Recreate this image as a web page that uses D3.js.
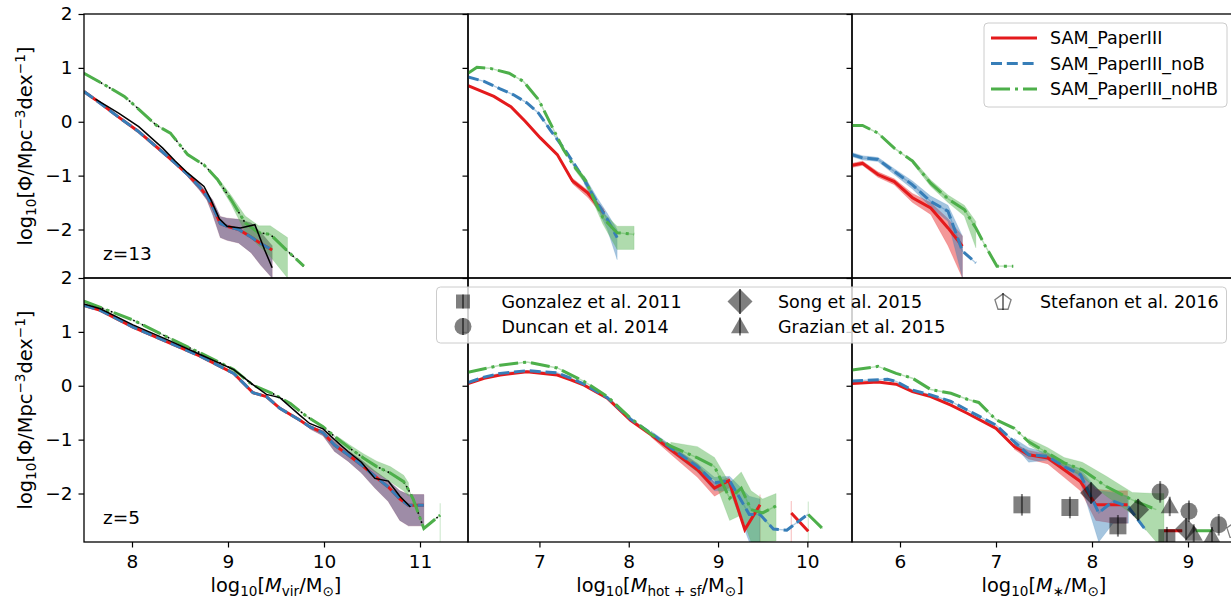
<!DOCTYPE html>
<html>
<head>
<meta charset="utf-8">
<script src="https://cdn.jsdelivr.net/npm/d3@7/dist/d3.min.js"></script>
<style>
  body { margin: 0; background: #fff; }
  svg { display: block; font-family: "DejaVu Sans", sans-serif; }
</style>
</head>
<body>
<svg id="chart" width="1231" height="601"></svg>
<script>
// ---- data: [log10 mass, log10 phi] ----
// top row, z=13
const virZ13Red = [[7.5,0.56],[7.62,0.41],[7.85,0.10],[8.06,-0.17],[8.33,-0.58],[8.45,-0.77],[8.58,-0.98],[8.70,-1.20],[8.78,-1.38],[8.84,-1.57],[8.92,-1.89],[8.99,-1.94],[9.11,-2.00],[9.24,-2.14],[9.34,-2.26],[9.46,-2.38]];
const virZ13Blue = [[7.5,0.56],[7.62,0.41],[7.85,0.10],[8.06,-0.17],[8.33,-0.58],[8.45,-0.77],[8.58,-0.98],[8.70,-1.20],[8.78,-1.38],[8.84,-1.57],[8.92,-1.89],[8.99,-1.94],[9.11,-2.00],[9.24,-2.14],[9.34,-2.26],[9.46,-2.38]];
const virZ13Green = [[7.5,0.90],[7.71,0.69],[7.92,0.47],[8.06,0.25],[8.25,-0.06],[8.40,-0.21],[8.58,-0.61],[8.75,-0.80],[8.89,-1.07],[9.03,-1.44],[9.18,-1.88],[9.32,-2.06],[9.44,-2.09],[9.62,-2.40],[9.79,-2.68]];
const virZ13Black = [[7.62,0.42],[7.86,0.16],[8.07,-0.09],[8.32,-0.49],[8.45,-0.73],[8.58,-0.95],[8.75,-1.20],[8.82,-1.44],[8.91,-1.80],[8.99,-1.94],[9.13,-1.97],[9.28,-1.91],[9.38,-2.37],[9.46,-2.71]];
// bands: [x, upper, lower]
const virZ13RedBand = [[8.58,-0.95,-1.02],[8.70,-1.14,-1.26],[8.78,-1.32,-1.45],[8.84,-1.45,-1.72],[8.92,-1.76,-2.15],[8.99,-1.79,-2.20],[9.11,-1.81,-2.25],[9.24,-1.88,-2.43],[9.34,-2.05,-2.66],[9.46,-2.30,-2.90]];
const virZ13BlueBand = [[8.58,-0.95,-1.02],[8.70,-1.14,-1.26],[8.78,-1.32,-1.45],[8.84,-1.45,-1.72],[8.92,-1.76,-2.15],[8.99,-1.79,-2.20],[9.11,-1.81,-2.25],[9.24,-1.88,-2.43],[9.34,-2.05,-2.66],[9.46,-2.30,-2.90]];
const virZ13GreenBand = [[8.89,-1.03,-1.11],[9.03,-1.36,-1.52],[9.18,-1.75,-2.05],[9.32,-1.93,-2.30],[9.44,-1.93,-2.50],[9.62,-2.15,-2.90]];

const hotZ13Red = [[6.2,0.67],[6.49,0.47],[6.68,0.28],[6.84,0.01],[7.01,-0.30],[7.20,-0.61],[7.37,-1.10],[7.54,-1.32],[7.63,-1.51],[7.72,-1.69]];
const hotZ13Blue = [[6.2,0.83],[6.38,0.75],[6.56,0.61],[6.71,0.50],[6.86,0.35],[6.99,0.16],[7.12,-0.15],[7.31,-0.58],[7.50,-1.07],[7.65,-1.51],[7.76,-1.81],[7.87,-2.15]];
const hotZ13Green = [[6.2,0.90],[6.30,1.01],[6.45,0.99],[6.66,0.90],[6.82,0.75],[6.99,0.41],[7.12,-0.02],[7.27,-0.52],[7.39,-0.83],[7.52,-1.10],[7.61,-1.44],[7.71,-1.78],[7.87,-2.06],[8.06,-2.09]];
const hotZ13RedBand = [[7.37,-1.05,-1.15],[7.54,-1.27,-1.40],[7.63,-1.45,-1.58],[7.72,-1.62,-1.75]];
const hotZ13BlueBand = [[7.50,-1.00,-1.15],[7.65,-1.42,-1.62],[7.76,-1.70,-2.00],[7.87,-2.00,-2.56]];
const hotZ13GreenBand = [[7.39,-0.78,-0.88],[7.52,-1.05,-1.17],[7.61,-1.38,-1.52],[7.71,-1.68,-1.90],[7.87,-1.94,-2.37],[8.06,-1.94,-2.37]];

const starZ13Red = [[5.5,-0.81],[5.61,-0.77],[5.77,-0.98],[5.94,-1.11],[6.13,-1.41],[6.32,-1.60],[6.50,-1.97],[6.65,-2.31]];
const starZ13Blue = [[5.5,-0.61],[5.61,-0.67],[5.77,-0.70],[5.94,-0.92],[6.13,-1.17],[6.32,-1.48],[6.50,-1.66],[6.65,-2.40],[6.79,-2.62]];
const starZ13Green = [[5.5,-0.07],[5.61,-0.07],[5.77,-0.21],[5.94,-0.49],[6.13,-0.73],[6.32,-1.14],[6.50,-1.43],[6.67,-1.63],[6.79,-1.97],[6.89,-2.31],[7.01,-2.68],[7.18,-2.68]];
const starZ13RedBand = [[5.5,-0.77,-0.85],[5.61,-0.73,-0.81],[5.77,-0.93,-1.03],[5.94,-1.06,-1.17],[6.13,-1.33,-1.50],[6.32,-1.50,-1.72],[6.50,-1.80,-2.30],[6.65,-2.12,-2.90]];
const starZ13BlueBand = [[5.5,-0.57,-0.65],[5.61,-0.63,-0.71],[5.77,-0.66,-0.74],[5.94,-0.87,-0.98],[6.13,-1.10,-1.25],[6.32,-1.38,-1.58],[6.50,-1.55,-1.85],[6.65,-2.12,-2.90]];
const starZ13GreenBand = [[6.13,-0.69,-0.77],[6.32,-1.08,-1.20],[6.50,-1.36,-1.50],[6.67,-1.55,-1.75],[6.79,-1.85,-2.34]];

// bottom row, z=5
const virZ5Red = [[7.5,1.49],[7.67,1.40],[8.01,1.09],[8.36,0.82],[8.71,0.55],[9.06,0.23],[9.26,-0.13],[9.40,-0.20],[9.54,-0.42],[9.75,-0.64],[9.85,-0.76],[9.99,-0.87],[10.11,-1.10],[10.25,-1.28],[10.39,-1.47],[10.53,-1.68],[10.67,-1.88],[10.79,-2.10],[10.88,-2.22],[10.97,-2.22],[11.04,-2.22]];
const virZ5Blue = [[7.5,1.49],[7.67,1.40],[8.01,1.09],[8.36,0.82],[8.71,0.55],[9.06,0.23],[9.26,-0.13],[9.40,-0.20],[9.54,-0.42],[9.75,-0.64],[9.85,-0.76],[9.99,-0.87],[10.11,-1.10],[10.25,-1.28],[10.39,-1.47],[10.53,-1.68],[10.67,-1.88],[10.79,-2.10],[10.88,-2.22],[10.97,-2.22],[11.04,-2.22]];
const virZ5Green = [[7.5,1.57],[8.01,1.22],[8.36,0.91],[8.71,0.61],[9.06,0.30],[9.26,0.01],[9.47,-0.15],[9.65,-0.33],[9.82,-0.57],[9.99,-0.76],[10.13,-0.97],[10.27,-1.16],[10.41,-1.34],[10.55,-1.50],[10.69,-1.62],[10.83,-1.78],[10.88,-1.93],[10.93,-2.11],[11.04,-2.65],[11.21,-2.40]];
const virZ5Black = [[7.5,1.52],[7.67,1.43],[8.01,1.13],[8.36,0.86],[8.71,0.58],[9.06,0.30],[9.26,0.02],[9.40,-0.16],[9.54,-0.22],[9.75,-0.55],[9.85,-0.70],[9.99,-0.80],[10.11,-1.00],[10.25,-1.22],[10.39,-1.42],[10.53,-1.72],[10.67,-1.77],[10.79,-2.05],[10.90,-2.25]];
const virZ5RedBand = [[9.85,-0.74,-0.80],[9.99,-0.83,-0.93],[10.11,-1.03,-1.22],[10.25,-1.20,-1.40],[10.39,-1.38,-1.62],[10.53,-1.58,-1.90],[10.67,-1.76,-2.15],[10.79,-1.95,-2.50],[10.88,-2.02,-2.60],[11.04,-2.02,-2.60]];
const virZ5BlueBand = [[9.85,-0.74,-0.80],[9.99,-0.83,-0.93],[10.11,-1.03,-1.22],[10.25,-1.20,-1.40],[10.39,-1.38,-1.62],[10.53,-1.58,-1.90],[10.67,-1.76,-2.15],[10.79,-1.95,-2.50],[10.88,-2.02,-2.60],[11.04,-2.02,-2.60]];
const virZ5GreenBand = [[10.13,-0.93,-1.02],[10.27,-1.10,-1.22],[10.41,-1.26,-1.45],[10.55,-1.40,-1.62],[10.69,-1.50,-1.78],[10.83,-1.66,-1.95],[10.88,-1.80,-2.05],null,[11.21,-2.18,-2.90]];

const hotZ5Red = [[6.2,0.04],[6.38,0.14],[6.56,0.20],[6.86,0.26],[7.20,0.20],[7.35,0.11],[7.50,0.01],[7.76,-0.23],[8.02,-0.64],[8.25,-0.91],[8.47,-1.19],[8.77,-1.56],[8.96,-1.90],[9.12,-1.76],[9.30,-2.67],[9.47,-2.21],null,[9.82,-2.36],[10.01,-2.70]];
const hotZ5Blue = [[6.2,0.06],[6.38,0.16],[6.56,0.23],[6.86,0.28],[7.20,0.24],[7.35,0.14],[7.50,0.03],[7.76,-0.22],[8.02,-0.62],[8.25,-0.88],[8.47,-1.15],[8.77,-1.50],[8.96,-1.80],[9.13,-1.76],[9.35,-2.39],[9.47,-2.39],[9.62,-2.66],[9.77,-2.68],[10.01,-2.38]];
const hotZ5Green = [[6.2,0.25],[6.56,0.38],[6.86,0.44],[7.20,0.33],[7.50,0.08],[7.76,-0.20],[8.02,-0.60],[8.25,-0.90],[8.47,-1.12],[8.77,-1.34],[8.96,-1.50],[9.13,-2.09],[9.26,-1.90],[9.37,-2.30],[9.50,-2.36],[9.65,-2.23],null,[10.01,-2.39],[10.17,-2.65]];
const hotZ5RedBand = [[8.25,-0.87,-0.95],[8.47,-1.12,-1.27],[8.77,-1.45,-1.70],[8.96,-1.80,-2.05],[9.12,-1.70,-1.90],null,[9.47,-2.02,-2.90],null,[9.82,-2.14,-2.90]];
const hotZ5BlueBand = [[8.25,-0.84,-0.93],[8.47,-1.10,-1.22],[8.77,-1.44,-1.60],[8.96,-1.70,-1.95],[9.13,-1.68,-1.95],[9.35,-2.05,-2.90],[9.47,-2.10,-2.90]];
const hotZ5GreenBand = [[8.47,-1.05,-1.20],[8.77,-1.13,-1.60],[8.96,-1.33,-1.75],[9.13,-1.81,-2.50],[9.26,-1.60,-2.40],[9.37,-1.95,-2.90],[9.50,-2.10,-2.90],[9.65,-2.00,-2.88],null,[10.01,-2.15,-2.90]];

const starZ5Red = [[5.5,0.04],[5.77,0.07],[5.96,0.03],[6.13,-0.11],[6.32,-0.20],[6.53,-0.36],[6.70,-0.51],[7.00,-0.79],[7.19,-1.13],[7.34,-1.28],[7.54,-1.34],[7.71,-1.56],[7.88,-1.78],[8.04,-2.21],[8.22,-2.21],[8.37,-2.21],null,[8.75,-2.69],[8.94,-2.69]];
const starZ5Blue = [[5.5,0.09],[5.87,0.12],[5.96,0.08],[6.13,-0.08],[6.32,-0.17],[6.53,-0.29],[6.70,-0.45],[7.00,-0.73],[7.19,-1.04],[7.34,-1.28],[7.54,-1.31],[7.71,-1.50],[7.88,-1.65],[8.07,-2.36],[8.22,-2.14],[8.38,-2.25],[8.56,-2.68]];
const starZ5Green = [[5.5,0.29],[5.77,0.36],[5.96,0.23],[6.13,0.14],[6.32,-0.07],[6.53,-0.14],[6.70,-0.25],[6.82,-0.31],[7.00,-0.63],[7.19,-0.79],[7.34,-1.04],[7.54,-1.25],[7.71,-1.43],[7.90,-1.56],[8.15,-1.87],[8.42,-2.12],[8.67,-2.30],null,[9.08,-2.69],[9.25,-2.69]];
const starZ5RedBand = [[7.19,-1.08,-1.18],[7.34,-1.20,-1.36],[7.54,-1.27,-1.45],[7.71,-1.45,-1.70],[7.88,-1.60,-1.95],[8.04,-1.92,-2.50],[8.22,-1.95,-2.55],[8.37,-1.95,-2.55]];
const starZ5BlueBand = [[7.19,-0.98,-1.10],[7.34,-1.15,-1.42],[7.54,-1.25,-1.38],[7.71,-1.42,-1.58],[7.88,-1.55,-1.80],[8.07,-1.95,-2.90],[8.22,-1.98,-2.55],[8.38,-2.05,-2.55]];
const starZ5GreenBand = [[7.34,-0.98,-1.10],[7.54,-1.15,-1.32],[7.71,-1.33,-1.50],[7.90,-1.42,-1.70],[8.15,-1.68,-2.05],[8.42,-1.98,-2.38],[8.67,-2.00,-2.90],[8.75,-2.00,-2.90]];

// observations at z=5: [log10 M*, log10 phi, error]
const gonzalez2011 = [[7.27,-2.21,0.2],[7.77,-2.26,0.2],[8.27,-2.60,0.2],[8.78,-2.82,0.2]];
const duncan2014 = [[8.71,-1.97,0.2],[9.01,-2.33,0.2],[9.32,-2.58,0.2]];
const song2015 = [[7.99,-1.99,0.2],[8.48,-2.30,0.2],[8.98,-2.66,0.2]];
const grazian2015 = [[8.81,-2.24,0.18],[9.06,-2.75,0.18],[9.25,-2.80,0.18]];
const stefanon2016 = [[9.49,-2.67,0.2]];

const yTicks = [-2, -1, 0, 1, 2];
const seriesNames = ["SAM_PaperIII", "SAM_PaperIII_noB", "SAM_PaperIII_noHB"];

// ---- styling ----
const colors = { red: "#e41a1c", blue: "#377eb8", green: "#4daf4a" };
const dashes = { red: null, blue: "11,4.8", green: "19,5,3,5" };
const panelW = 384, panelH = 264;
const lefts = [84, 468, 852], tops = [14, 278];
const tickFont = 18.5, labelFont = 19.4, legendFont = 17.5;

const svg = d3.select("#chart");

const panels = [
  { row: 0, col: 0, xDomain: [7.5, 11.5], ticks: [8, 9, 10, 11], z: "z=13",
    lines: { red: virZ13Red, blue: virZ13Blue, green: virZ13Green },
    bands: { red: virZ13RedBand, blue: virZ13BlueBand, green: virZ13GreenBand },
    black: virZ13Black, dotted: virZ13Green },
  { row: 0, col: 1, xDomain: [6.2, 10.5], ticks: [7, 8, 9, 10],
    lines: { red: hotZ13Red, blue: hotZ13Blue, green: hotZ13Green },
    bands: { red: hotZ13RedBand, blue: hotZ13BlueBand, green: hotZ13GreenBand } },
  { row: 0, col: 2, xDomain: [5.5, 9.5], ticks: [6, 7, 8, 9],
    lines: { red: starZ13Red, blue: starZ13Blue, green: starZ13Green },
    bands: { red: starZ13RedBand, blue: starZ13BlueBand, green: starZ13GreenBand } },
  { row: 1, col: 0, xDomain: [7.5, 11.5], ticks: [8, 9, 10, 11], z: "z=5",
    lines: { red: virZ5Red, blue: virZ5Blue, green: virZ5Green },
    bands: { red: virZ5RedBand, blue: virZ5BlueBand, green: virZ5GreenBand },
    black: virZ5Black, dotted: virZ5Green },
  { row: 1, col: 1, xDomain: [6.2, 10.5], ticks: [7, 8, 9, 10],
    lines: { red: hotZ5Red, blue: hotZ5Blue, green: hotZ5Green },
    bands: { red: hotZ5RedBand, blue: hotZ5BlueBand, green: hotZ5GreenBand } },
  { row: 1, col: 2, xDomain: [5.5, 9.5], ticks: [6, 7, 8, 9], obs: true,
    lines: { red: starZ5Red, blue: starZ5Blue, green: starZ5Green },
    bands: { red: starZ5RedBand, blue: starZ5BlueBand, green: starZ5GreenBand } }
];

// marker shapes, centred on 0,0
function markerPath(kind, s) {
  const h = s / 2;
  if (kind === "square") return `M${-h},${-h}H${h}V${h}H${-h}Z`;
  if (kind === "diamond") return `M0,${-h}L${h},0L0,${h}L${-h},0Z`;
  if (kind === "triangle") return `M0,${-h}L${h},${h * 0.75}L${-h},${h * 0.75}Z`;
  if (kind === "pentagon") {
    const pts = d3.range(5).map(i => {
      const a = -Math.PI / 2 + i * 2 * Math.PI / 5;
      return [h * Math.cos(a), h * Math.sin(a) + h * 0.1];
    });
    return "M" + pts.map(p => p.join(",")).join("L") + "Z";
  }
  return `M${h},0A${h},${h} 0 1 1 ${-h},0A${h},${h} 0 1 1 ${h},0Z`;
}

const obsSets = [
  { name: "Gonzalez et al. 2011", data: gonzalez2011, kind: "square", size: 17, legSize: 14 },
  { name: "Duncan et al. 2014", data: duncan2014, kind: "circle", size: 17, legSize: 17 },
  { name: "Song et al. 2015", data: song2015, kind: "diamond", size: 22, legSize: 25 },
  { name: "Grazian et al. 2015", data: grazian2015, kind: "triangle", size: 18, legSize: 18 },
  { name: "Stefanon et al. 2016", data: stefanon2016, kind: "pentagon", size: 17, legSize: 17, open: true }
];

function drawMarker(g, kind, cx, cy, size, open, errPx) {
  g.append("path")
    .attr("transform", `translate(${cx},${cy})`)
    .attr("d", markerPath(kind, size))
    .attr("fill", open ? "none" : "#000")
    .attr("fill-opacity", open ? null : 0.5)
    .attr("stroke", open ? "#000" : "none")
    .attr("stroke-opacity", 0.5)
    .attr("stroke-width", 1.3);
  g.append("line")
    .attr("x1", cx).attr("x2", cx)
    .attr("y1", cy - errPx).attr("y2", cy + errPx)
    .attr("stroke", "#000").attr("stroke-opacity", 0.5)
    .attr("stroke-width", 2);
}

// rich text with sub/superscripts, drawn with tspans
function rich(text, parts, size) {
  let shift = 0;
  parts.forEach(p => {
    const target = p.sub ? 0.22 * size : p.sup ? -0.38 * size : 0;
    const ts = text.append("tspan").text(p.t).attr("dy", target - shift);
    shift = target;
    if (p.sub || p.sup) ts.attr("font-size", size * 0.7);
    if (p.it) ts.attr("font-style", "italic");
  });
}

panels.forEach((p, i) => {
  const x = d3.scaleLinear().domain(p.xDomain).range([0, panelW]);
  const y = d3.scaleLinear().domain([-2.9, 2]).range([panelH, 0]);
  const g = svg.append("g").attr("transform", `translate(${lefts[p.col]},${tops[p.row]})`);

  g.append("clipPath").attr("id", "clip" + i)
    .append("rect").attr("width", panelW).attr("height", panelH);
  const plot = g.append("g").attr("clip-path", `url(#clip${i})`);

  const area = d3.area().defined(d => d)
    .x(d => x(d[0])).y0(d => y(d[2])).y1(d => y(d[1]));
  const line = d3.line().defined(d => d)
    .x(d => x(d[0])).y(d => y(d[1]));

  ["red", "blue", "green"].forEach(k => {
    plot.append("path").datum(p.bands[k]).attr("d", area)
      .attr("fill", colors[k]).attr("fill-opacity", 0.45)
      .attr("stroke", colors[k]).attr("stroke-opacity", 0.2).attr("stroke-width", 0.8);
    // thin light edge of the narrow confidence band
    plot.append("path").datum(p.lines[k]).attr("d", line)
      .attr("fill", "none").attr("stroke", colors[k])
      .attr("stroke-opacity", 0.4).attr("stroke-width", 1.4);
  });

  if (p.dotted) {
    plot.append("path").datum(p.dotted).attr("d", line)
      .attr("fill", "none").attr("stroke", "#000")
      .attr("stroke-width", 1.6).attr("stroke-dasharray", "1.6,3.2");
  }

  ["red", "blue", "green"].forEach(k => {
    plot.append("path").datum(p.lines[k]).attr("d", line)
      .attr("fill", "none").attr("stroke", colors[k])
      .attr("stroke-width", 3)
      .attr("stroke-dasharray", dashes[k]);
  });

  if (p.black) {
    plot.append("path").datum(p.black).attr("d", line)
      .attr("fill", "none").attr("stroke", "#000").attr("stroke-width", 1.5);
  }

  if (p.obs) {
    obsSets.forEach(o => {
      o.data.forEach(d => {
        const errPx = y(d[1] - d[2]) - y(d[1]);
        drawMarker(plot, o.kind, x(d[0]), y(d[1]), o.size, o.open, errPx);
      });
    });
  }

  // y axis on every panel, labels only on the first column
  const yAxis = d3.axisLeft(y).tickValues(yTicks).tickSize(5.5).tickPadding(6)
    .tickFormat(p.col === 0 ? d3.format("d") : "");
  const ya = g.append("g").call(yAxis);
  ya.select(".domain").remove();
  ya.selectAll("line").attr("stroke-width", 1.2);
  ya.selectAll("text").attr("font-size", tickFont).attr("fill", "#000")
    .attr("font-family", "DejaVu Sans");

  if (p.row === 1) {
    const xAxis = d3.axisBottom(x).tickValues(p.ticks).tickSize(5.5).tickPadding(7)
      .tickFormat(d3.format("d"));
    const xa = g.append("g").attr("transform", `translate(0,${panelH})`).call(xAxis);
    xa.select(".domain").remove();
    xa.selectAll("line").attr("stroke-width", 1.2);
    xa.selectAll("text").attr("font-size", tickFont).attr("fill", "#000")
      .attr("font-family", "DejaVu Sans");
  }

  g.append("rect").attr("width", panelW).attr("height", panelH)
    .attr("fill", "none").attr("stroke", "#000").attr("stroke-width", 1.3);

  if (p.z) {
    g.append("text").attr("x", 19).attr("y", panelH - 18)
      .attr("font-size", tickFont).text(p.z);
  }
});

// axis labels
const xLabels = [
  [{ t: "log" }, { t: "10", sub: true }, { t: "[" }, { t: "M", it: true }, { t: "vir", sub: true }, { t: "/M" }, { t: "⊙", sub: true }, { t: "]" }],
  [{ t: "log" }, { t: "10", sub: true }, { t: "[" }, { t: "M", it: true }, { t: "hot + sf", sub: true }, { t: "/M" }, { t: "⊙", sub: true }, { t: "]" }],
  [{ t: "log" }, { t: "10", sub: true }, { t: "[" }, { t: "M", it: true }, { t: "∗", sub: true }, { t: "/M" }, { t: "⊙", sub: true }, { t: "]" }]
];
xLabels.forEach((parts, c) => {
  const t = svg.append("text").attr("x", lefts[c] + panelW / 2).attr("y", 592)
    .attr("text-anchor", "middle").attr("font-size", labelFont);
  rich(t, parts, labelFont);
});

const yLabel = [{ t: "log" }, { t: "10", sub: true }, { t: "[Φ/Mpc" }, { t: "−3", sup: true }, { t: "dex" }, { t: "−1", sup: true }, { t: "]" }];
tops.forEach(top => {
  const t = svg.append("text")
    .attr("transform", `translate(32,${top + panelH / 2}) rotate(-90)`)
    .attr("text-anchor", "middle").attr("font-size", labelFont);
  rich(t, yLabel, labelFont);
});

// legend for the model lines
const leg1 = svg.append("g");
leg1.append("rect").attr("x", 984).attr("y", 23).attr("width", 243).attr("height", 84)
  .attr("rx", 4).attr("fill", "#fff").attr("fill-opacity", 0.8)
  .attr("stroke", "#ccc").attr("stroke-width", 1);
["red", "blue", "green"].forEach((k, i) => {
  const cy = 38 + i * 25.5;
  leg1.append("line").attr("x1", 991).attr("x2", 1037).attr("y1", cy).attr("y2", cy)
    .attr("stroke", colors[k]).attr("stroke-width", 3)
    .attr("stroke-dasharray", dashes[k]);
  leg1.append("text").attr("x", 1050).attr("y", cy).attr("dy", "0.35em")
    .attr("font-size", legendFont).text(seriesNames[i]);
});

// legend for the observations
const leg2 = svg.append("g");
leg2.append("rect").attr("x", 436.5).attr("y", 287).attr("width", 790).attr("height", 56)
  .attr("rx", 4).attr("fill", "#fff").attr("fill-opacity", 0.8)
  .attr("stroke", "#ccc").attr("stroke-width", 1);
const legPos = [[463, 301.5], [463, 326.5], [740, 301.5], [740, 326.5], [1003, 301.5]];
const legText = [501.5, 501.5, 778, 778, 1040];
obsSets.forEach((o, i) => {
  const [cx, cy] = legPos[i];
  drawMarker(leg2, o.kind, cx, cy, o.legSize, o.open, o.legSize / 2);
  leg2.append("text").attr("x", legText[i]).attr("y", cy).attr("dy", "0.35em")
    .attr("font-size", legendFont).text(o.name);
});
</script>
</body>
</html>
